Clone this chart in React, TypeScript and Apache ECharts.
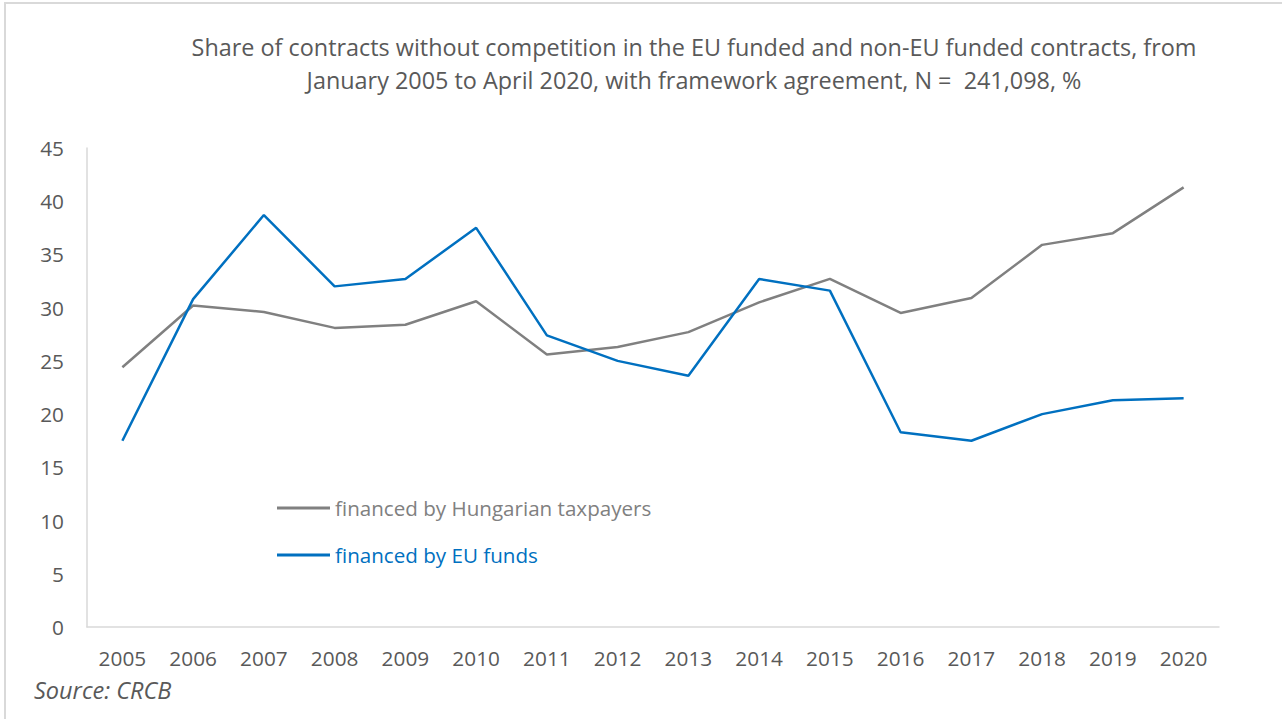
import React, { useEffect, useRef } from "react";
import * as echarts from "echarts";

const years = ["2005","2006","2007","2008","2009","2010","2011","2012","2013","2014","2015","2016","2017","2018","2019","2020"];
const hungarian = [24.4, 30.2, 29.6, 28.1, 28.4, 30.6, 25.6, 26.3, 27.7, 30.5, 32.7, 29.5, 30.9, 35.9, 37.0, 41.3];
const euFunds = [17.5, 30.8, 38.7, 32.0, 32.7, 37.5, 27.4, 25.0, 23.6, 32.7, 31.6, 18.3, 17.5, 20.0, 21.3, 21.5];
const seriesNames = ["financed by Hungarian taxpayers", "financed by EU funds"];
const titleLines = [
  "Share of contracts without competition in the EU funded and non-EU funded contracts, from",
  "January 2005 to April 2020, with framework agreement, N =  241,098, %",
];
const sourceText = "Source: CRCB";

const FONT = "'Open Sans', sans-serif";

export default function App() {
  const ref = useRef<HTMLDivElement>(null);
  useEffect(() => {
    if (!ref.current) return;
    const chart = echarts.init(ref.current, undefined, { renderer: "svg" });
    chart.setOption({
      animation: false,
      backgroundColor: "#ffffff",
      textStyle: { fontFamily: FONT },
      graphic: [
        {
          type: "rect",
          shape: { x: 5, y: 3, width: 1290, height: 730 },
          style: { fill: "none", stroke: "#d9d9d9", lineWidth: 2 },
          silent: true,
        },
        {
          type: "text",
          x: 694,
          y: 47,
          style: {
            text: titleLines[0],
            fill: "#595959",
            font: `23.4px ${FONT}`,
            textAlign: "center",
            textVerticalAlign: "middle",
          },
        },
        {
          type: "text",
          x: 694,
          y: 80,
          style: {
            text: titleLines[1],
            fill: "#595959",
            font: `23.4px ${FONT}`,
            textAlign: "center",
            textVerticalAlign: "middle",
          },
        },
        {
          type: "text",
          x: 34,
          y: 690,
          style: {
            text: sourceText,
            fill: "#595959",
            font: `italic 23.5px ${FONT}`,
            textAlign: "left",
            textVerticalAlign: "middle",
          },
        },
      ],
      legend: {
        orient: "vertical",
        left: 272,
        top: 491,
        itemWidth: 53,
        itemHeight: 3,
        itemGap: 23,
        icon: "rect",
        data: [
          { name: seriesNames[0], textStyle: { color: "#808080" } },
          { name: seriesNames[1], textStyle: { color: "#0070c0" } },
        ],
        textStyle: { fontSize: 20.6, fontFamily: FONT, lineHeight: 24, padding: [0, 0, 0, 0] },
        selectedMode: false,
      },
      grid: { left: 87, right: 63, top: 148, bottom: 92 },
      xAxis: {
        type: "category",
        data: years,
        boundaryGap: true,
        axisLine: { lineStyle: { color: "#d9d9d9", width: 1.5 } },
        axisTick: { show: false },
        axisLabel: { color: "#595959", fontSize: 20.8, fontFamily: FONT, margin: 20 },
      },
      yAxis: {
        type: "value",
        min: 0,
        max: 45,
        interval: 5,
        axisLine: { show: true, lineStyle: { color: "#d9d9d9", width: 1.5 } },
        axisTick: { show: false },
        splitLine: { show: false },
        axisLabel: { color: "#595959", fontSize: 20.8, fontFamily: FONT, margin: 23 },
      },
      series: [
        {
          name: seriesNames[0],
          type: "line",
          data: hungarian,
          symbol: "none",
          lineStyle: { color: "#808080", width: 2.5 },
          itemStyle: { color: "#808080" },
        },
        {
          name: seriesNames[1],
          type: "line",
          data: euFunds,
          symbol: "none",
          lineStyle: { color: "#0070c0", width: 2.5 },
          itemStyle: { color: "#0070c0" },
        },
      ],
    });
    return () => chart.dispose();
  }, []);
  return (
    <div
      ref={ref}
      style={{ position: "fixed", left: 0, top: 0, width: 1282, height: 719 }}
    />
  );
}
